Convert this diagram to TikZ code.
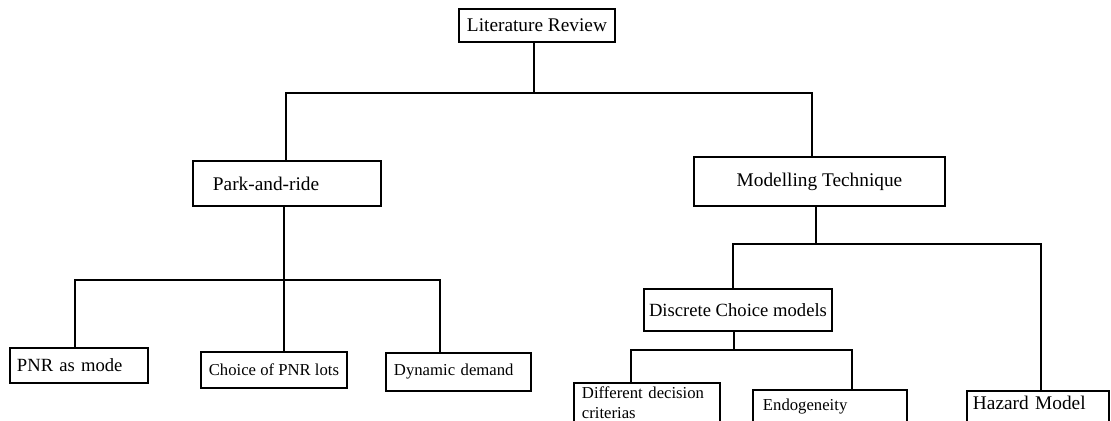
\documentclass[tikz,border=0pt]{standalone}
\usepackage{fontspec}
\setmainfont{Liberation Serif}
\usepackage{tikz}

\tikzset{
  box/.style={draw, line width=1.1pt, inner sep=0pt, anchor=north west, align=center,
    font=\fontsize{11}{13}\selectfont},
  wh/.style 2 args={minimum width=#1*0.02cm, minimum height=#2*0.02cm},
  lbox/.style={align=left, text width=#1*0.02cm},
  cutbox/.style={box, inner ysep=#1*0.02cm, text depth=1.2cm},
  small/.style={font=\fontsize{9.5}{11}\selectfont},
  mid/.style={font=\fontsize{10.6}{12.5}\selectfont},
  link/.style={line width=1.1pt, line cap=rect}
}

\begin{document}
\begin{tikzpicture}[x=0.02cm, y=-0.02cm]
\useasboundingbox (0,0) rectangle (1111,421);
\clip (0,0) rectangle (1111,421);

\node[box, wh={156}{33}] (lit) at (458,8) {Literature Review};
\node[box, wh={188}{45}, lbox=148] (park) at (192,160) {Park-and-ride};
\node[box, wh={251}{49}] (model) at (693,156) {Modelling Technique};

\node[box, mid, wh={138}{35}, lbox=124] (pnr) at (9,347) {PNR as mode};
\node[box, small, wh={146}{36}] (choice) at (200,351) {Choice of PNR lots};
\node[box, small, wh={145}{38}, lbox=129] (dyn) at (385,352) {Dynamic demand};

\node[box, mid, wh={188}{42}] (dcm) at (643,288) {Discrete Choice models};
\node[cutbox=4, small, minimum width=146*0.02cm, lbox=130] (diff) at (573,382) {Different decision\\criterias};
\node[cutbox=9, small, minimum width=154*0.02cm, lbox=134] (endo) at (752,389) {Endogeneity};
\node[cutbox=5, minimum width=142*0.02cm, lbox=130] (haz) at (966,390) {Hazard Model};

\coordinate (tM) at (534,93);
\coordinate (tL) at (286,93);
\coordinate (tR) at (812,93);
\coordinate (pL) at (75,280);
\coordinate (pM) at (284,280);
\coordinate (pR) at (440,280);
\coordinate (mL) at (733,244);
\coordinate (mM) at (816,244);
\coordinate (mR) at (1041,244);
\coordinate (dL) at (631,350);
\coordinate (dM) at (734,350);
\coordinate (dR) at (852,350);

\draw[link] (tM |- lit.south) -- (tM);
\draw[link] (tL) -- (tR);
\draw[link] (tL) -- (tL |- park.north);
\draw[link] (tR) -- (tR |- model.north);

\draw[link] (pM |- park.south) -- (pM);
\draw[link] (pL) -- (pR);
\draw[link] (pL) -- (pL |- pnr.north);
\draw[link] (pM) -- (pM |- choice.north);
\draw[link] (pR) -- (pR |- dyn.north);

\draw[link] (mM |- model.south) -- (mM);
\draw[link] (mL) -- (mR);
\draw[link] (mL) -- (mL |- dcm.north);
\draw[link] (mR) -- (mR |- haz.north);

\draw[link] (dM |- dcm.south) -- (dM);
\draw[link] (dL) -- (dR);
\draw[link] (dL) -- (dL |- diff.north);
\draw[link] (dR) -- (dR |- endo.north);
\end{tikzpicture}
\end{document}
